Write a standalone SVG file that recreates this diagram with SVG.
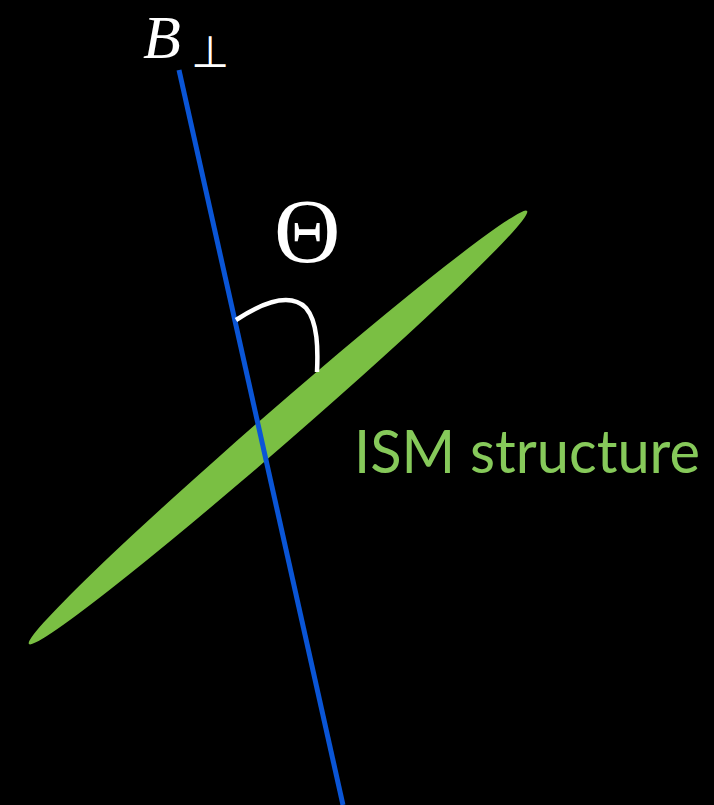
<svg xmlns="http://www.w3.org/2000/svg" width="714" height="805" viewBox="0 0 714 805">
<style>
.lbl{font-family:'Liberation Serif','Times New Roman',Times,serif;fill:#ffffff}
.ism{font-family:Lato,'Open Sans',sans-serif;fill:#86c95a}
</style>
<rect x="0" y="0" width="714" height="805" fill="#000000"/>
<g id="ism-structure">
<ellipse cx="278" cy="427.5" rx="330" ry="17" transform="rotate(-41 278 427.5)" fill="#7abf43"/>
<text class="ism" x="354" y="473" font-size="60" textLength="346" lengthAdjust="spacingAndGlyphs">ISM structure</text>
</g>
<g id="connectors">
<line x1="179" y1="70" x2="343" y2="805" stroke="#0a55d6" stroke-width="5"/>
<path d="M236,320 C262,303 290,292 306,308 C318,322 318,350 317,372" fill="none" stroke="#ffffff" stroke-width="4.5"/>
</g>
<g id="b-perp">
<text class="lbl" x="143" y="58" font-size="62" font-style="italic">B</text>
<text class="lbl" x="191" y="67" font-size="44">⊥</text>
</g>
<g id="theta">
<text class="lbl" x="274" y="262" font-size="92">Θ</text>
</g>
</svg>
